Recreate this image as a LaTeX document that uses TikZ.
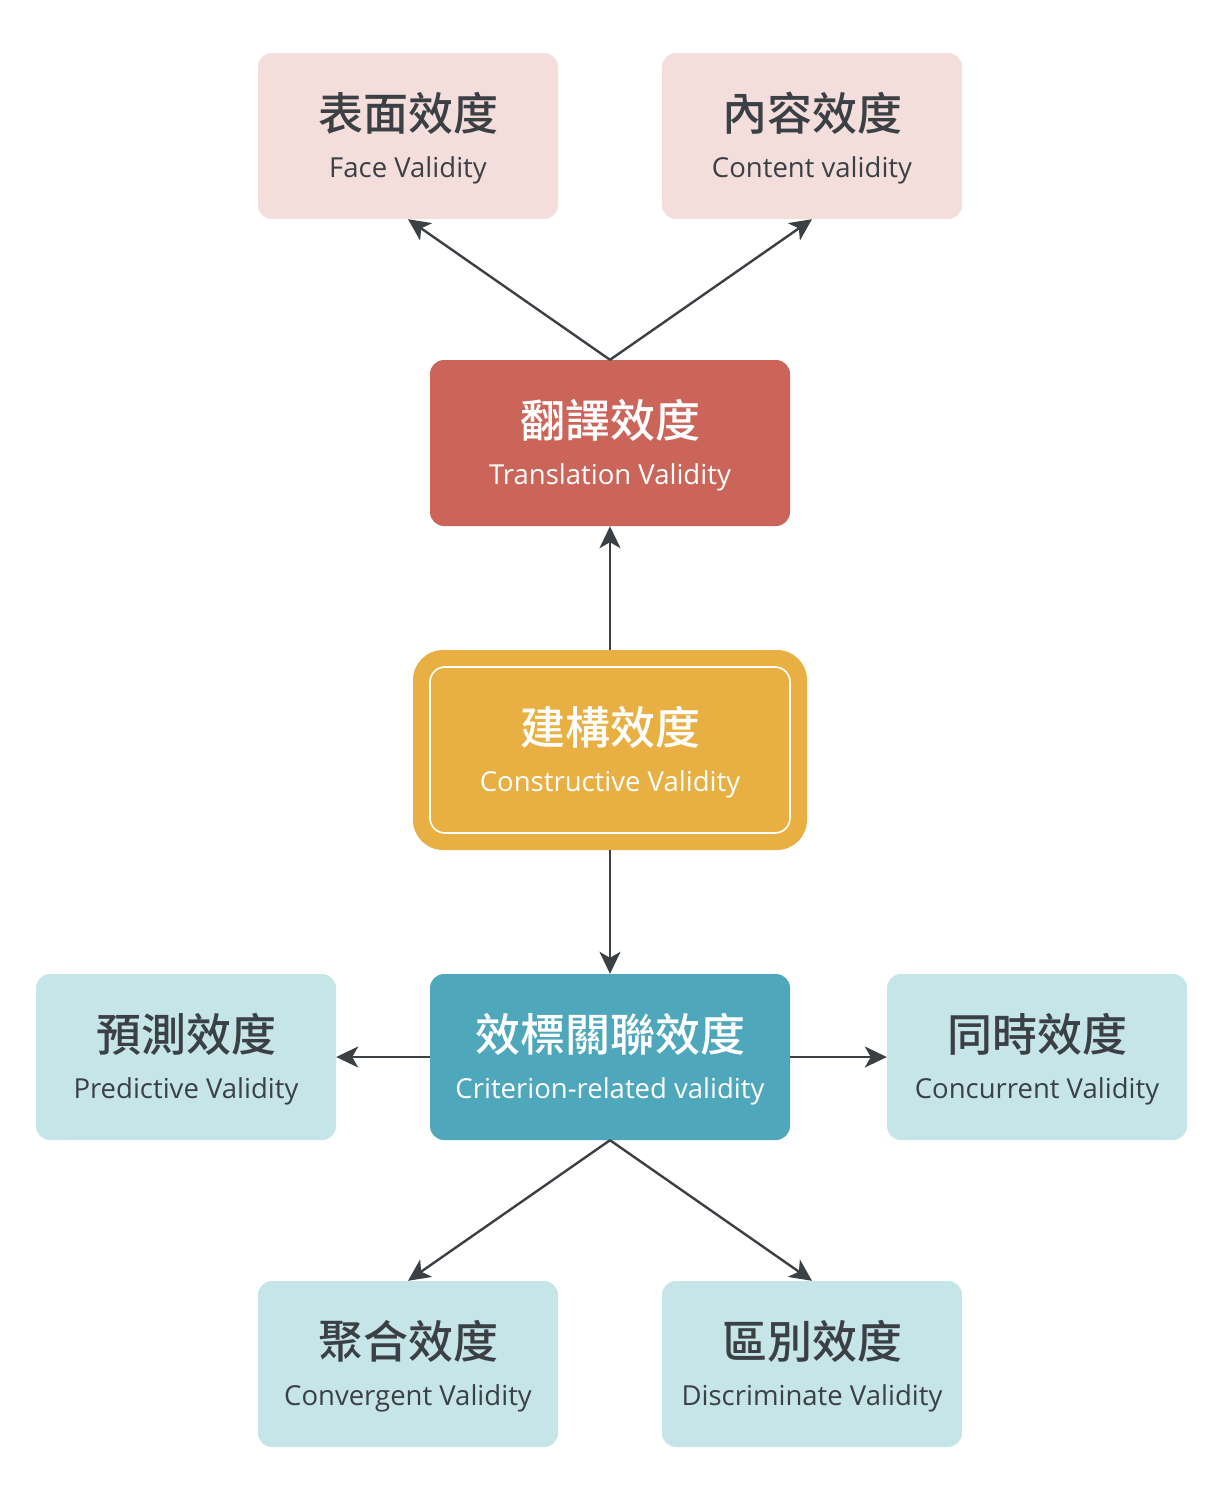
\documentclass[tikz,border=0pt]{standalone}
\usepackage{fontspec}
\setmainfont{Open Sans}
\newfontfamily\cjk{Noto Sans CJK TC}[BoldFont={Noto Sans CJK TC Medium}]
\usetikzlibrary{arrows.meta}
\definecolor{pinkbg}{HTML}{F4DEDC}
\definecolor{redbg}{HTML}{CB655A}
\definecolor{yellowbg}{HTML}{E8B043}
\definecolor{tealbg}{HTML}{4FA7BB}
\definecolor{lightblue}{HTML}{C5E5E9}
\definecolor{ink}{HTML}{3B4045}
\begin{document}
\begin{tikzpicture}[x=1pt,y=-1pt,
  box/.style={rounded corners=14pt, minimum width=300pt, minimum height=166pt, inner sep=0pt, draw=none},
  bigbox/.style={box, minimum width=360pt},
  zh/.style={anchor=base, inner sep=0pt, font=\cjk\bfseries\fontsize{45}{48}\selectfont},
  en/.style={anchor=base, inner sep=0pt, font=\fontsize{27.5}{32}\selectfont},
  conn/.style={draw=ink, line width=2.4pt, -{Stealth[length=22pt,width=21pt,inset=6pt]}}
]
\useasboundingbox (0,0) rectangle (1221,1500);
% boxes
\node[box, fill=pinkbg] (fa) at (408,136) {};
\node[box, fill=pinkbg] (co) at (812,136) {};
\node[bigbox, fill=redbg] (tr) at (610,443) {};
\node[rounded corners=30pt, minimum width=394pt, minimum height=200pt, inner sep=0pt, fill=yellowbg] (cons) at (610,750) {};
\node[rounded corners=15pt, minimum width=360pt, minimum height=166pt, inner sep=0pt, draw=white, line width=1.6pt] (consin) at (610,750) {};
\node[bigbox, fill=tealbg] (cr) at (610,1057) {};
\node[box, fill=lightblue] (pr) at (186,1057) {};
\node[box, fill=lightblue] (cc) at (1037,1057) {};
\node[box, fill=lightblue] (cv) at (408,1364) {};
\node[box, fill=lightblue] (di) at (812,1364) {};
% labels
\node[zh, text=ink] (fa-zh) at ([yshift=6pt]fa.center) {表面效度};
\node[en, text=ink] (fa-en) at ([yshift=-41pt]fa.center) {Face Validity};
\node[zh, text=ink] (co-zh) at ([yshift=6pt]co.center) {內容效度};
\node[en, text=ink] (co-en) at ([yshift=-41pt]co.center) {Content validity};
\node[zh, text=white] (tr-zh) at ([yshift=6pt]tr.center) {翻譯效度};
\node[en, text=white] (tr-en) at ([yshift=-41pt]tr.center) {Translation Validity};
\node[zh, text=white] (cons-zh) at ([yshift=6pt]cons.center) {建構效度};
\node[en, text=white] (cons-en) at ([yshift=-41pt]cons.center) {Constructive Validity};
\node[zh, text=white] (cr-zh) at ([yshift=6pt]cr.center) {效標關聯效度};
\node[en, text=white] (cr-en) at ([yshift=-41pt]cr.center) {Criterion-related validity};
\node[zh, text=ink] (pr-zh) at ([yshift=6pt]pr.center) {預測效度};
\node[en, text=ink] (pr-en) at ([yshift=-41pt]pr.center) {Predictive Validity};
\node[zh, text=ink] (cc-zh) at ([yshift=6pt]cc.center) {同時效度};
\node[en, text=ink] (cc-en) at ([yshift=-41pt]cc.center) {Concurrent Validity};
\node[zh, text=ink] (cv-zh) at ([yshift=6pt]cv.center) {聚合效度};
\node[en, text=ink] (cv-en) at ([yshift=-41pt]cv.center) {Convergent Validity};
\node[zh, text=ink] (di-zh) at ([yshift=6pt]di.center) {區別效度};
\node[en, text=ink] (di-en) at ([yshift=-41pt]di.center) {Discriminate Validity};
% connectors
\draw[conn] (tr.north) -- (fa.south);
\draw[conn] (tr.north) -- (co.south);
\draw[conn] (cons.north) -- (tr.south);
\draw[conn] (cons.south) -- (cr.north);
\draw[conn] (cr.west) -- (pr.east);
\draw[conn] (cr.east) -- (cc.west);
\draw[conn] (cr.south) -- (cv.north);
\draw[conn] (cr.south) -- (di.north);
\end{tikzpicture}
\end{document}
